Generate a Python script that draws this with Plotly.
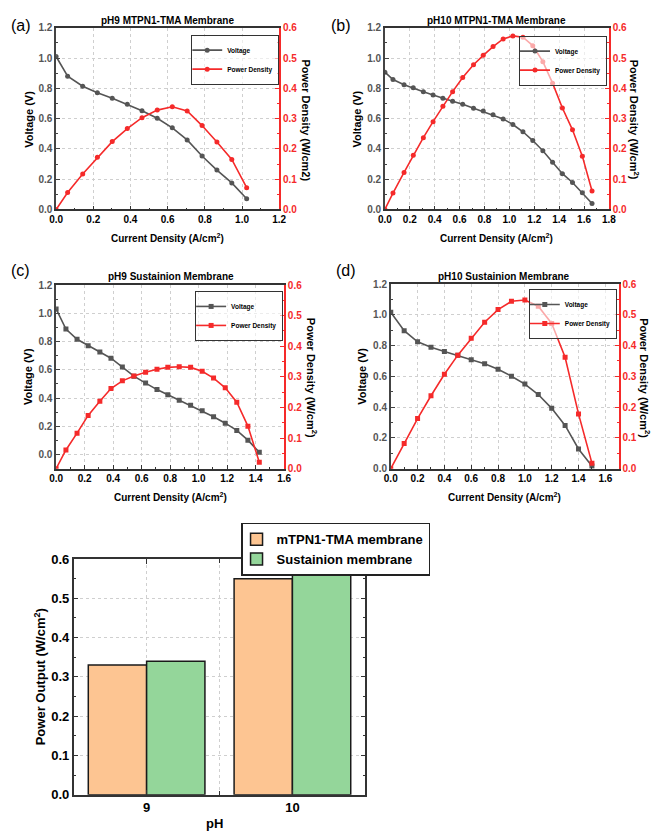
import plotly.graph_objects as go

# ---------------- data ----------------
# (a) pH9 MTPN1-TMA membrane
a_current = [0, 0.062, 0.143, 0.222, 0.302, 0.383, 0.462, 0.544, 0.625, 0.705, 0.785, 0.865, 0.945, 1.025]
a_voltage = [1.01, 0.88, 0.814, 0.771, 0.734, 0.695, 0.652, 0.602, 0.539, 0.459, 0.353, 0.26, 0.175, 0.071]
a_power = [0, 0.056, 0.117, 0.172, 0.224, 0.267, 0.303, 0.328, 0.339, 0.325, 0.277, 0.223, 0.165, 0.072]

# (b) pH10 MTPN1-TMA membrane
b_current = [0, 0.065, 0.154, 0.228, 0.309, 0.387, 0.466, 0.544, 0.625, 0.712, 0.790, 0.869, 0.950, 1.028,
             1.109, 1.188, 1.269, 1.347, 1.426, 1.507, 1.586, 1.664]
b_voltage = [0.907, 0.858, 0.823, 0.804, 0.778, 0.756, 0.734, 0.715, 0.695, 0.669, 0.650, 0.626, 0.598, 0.561,
             0.513, 0.455, 0.388, 0.312, 0.236, 0.178, 0.110, 0.039]
b_power = [0, 0.054, 0.122, 0.179, 0.237, 0.290, 0.341, 0.389, 0.436, 0.478, 0.509, 0.538, 0.563, 0.573,
           0.569, 0.541, 0.488, 0.417, 0.335, 0.263, 0.176, 0.061]

# (c) pH9 Sustainion membrane
c_current = [0, 0.069, 0.147, 0.225, 0.307, 0.385, 0.465, 0.546, 0.628, 0.708, 0.784, 0.864, 0.944, 1.025,
             1.105, 1.187, 1.268, 1.346, 1.426]
c_voltage = [1.031, 0.888, 0.816, 0.770, 0.726, 0.682, 0.620, 0.555, 0.506, 0.460, 0.423, 0.384, 0.349, 0.310,
             0.268, 0.222, 0.171, 0.102, 0.016]
c_power = [0, 0.061, 0.116, 0.174, 0.220, 0.262, 0.287, 0.303, 0.315, 0.325, 0.331, 0.333, 0.331, 0.318,
           0.296, 0.264, 0.217, 0.139, 0.021]

# (d) pH10 Sustainion membrane
d_current = [0, 0.1, 0.2, 0.3, 0.4, 0.5, 0.6, 0.7, 0.8, 0.9, 1.0, 1.1, 1.2, 1.3, 1.4, 1.5]
d_voltage = [1.017, 0.897, 0.825, 0.789, 0.761, 0.737, 0.708, 0.682, 0.646, 0.601, 0.550, 0.482, 0.392, 0.281, 0.128, 0.017]
d_power = [0, 0.082, 0.163, 0.237, 0.307, 0.369, 0.424, 0.476, 0.517, 0.544, 0.548, 0.528, 0.472, 0.362, 0.178, 0.018]

# bar chart
ph_labels = ["9", "10"]
mtpn_peak = [0.33, 0.55]
sust_peak = [0.34, 0.57]

# ---------------- style ----------------
# the page body has an 8 px default margin, so the figure is drawn 8 px in from the top-left
OFF = 8
W, H = 660 - OFF, 840 - OFF
FONT = "Liberation Sans, Arial, sans-serif"
GRAY = "#555555"
RED = "#F52A2A"
AXC = "#333333"
GRID = "#cfcfcf"


def px(x):
    return (x - OFF) / W


def py(y):
    return 1 - (y - OFF) / H


fig = go.Figure()


def add_panel(idx, cur, volt, pwr, symbol, xr, yr_left, dom_x, dom_y, legname, legbox):
    xa = "x" if idx == 1 else f"x{idx}"
    yl_n = 2 * idx - 1
    yr_n = 2 * idx
    yl = "y" if yl_n == 1 else f"y{yl_n}"
    yr = f"y{yr_n}"
    fig.add_trace(go.Scatter(x=cur, y=volt, name="Voltage", mode="lines+markers",
                             line=dict(color=GRAY, width=1.6),
                             marker=dict(symbol=symbol, size=5, color=GRAY),
                             xaxis=xa, yaxis=yl, legend=legname))
    fig.add_trace(go.Scatter(x=cur, y=pwr, name="Power Density", mode="lines+markers",
                             line=dict(color=RED, width=1.6),
                             marker=dict(symbol=symbol, size=5, color=RED),
                             xaxis=xa, yaxis=yr, legend=legname))
    xkey = "xaxis" if idx == 1 else f"xaxis{idx}"
    ylkey = "yaxis" if yl_n == 1 else f"yaxis{yl_n}"
    yrkey = f"yaxis{yr_n}"
    fig.layout[xkey] = dict(domain=[px(dom_x[0]), px(dom_x[1])], range=xr, dtick=0.2, tick0=0,
                            anchor=yl, showline=True, linecolor=AXC, linewidth=1.5, mirror=True,
                            ticks="inside", ticklen=4, tickcolor=AXC,
                            minor=dict(ticks="inside", ticklen=2, dtick=0.1, tickcolor=AXC),
                            showgrid=True, gridcolor=GRID, griddash="dot", gridwidth=1,
                            zeroline=False, tickformat=".1f",
                            tickfont=dict(size=10, color="black", family=FONT, weight="bold"))
    fig.layout[ylkey] = dict(domain=[py(dom_y[1]), py(dom_y[0])], range=yr_left, dtick=0.2, tick0=0,
                             anchor=xa, showline=True, linecolor="#444444", linewidth=1.5,
                             ticks="inside", ticklen=4, tickcolor="#444444",
                             minor=dict(ticks="inside", ticklen=2, dtick=0.1, tickcolor="#444444"),
                             showgrid=True, gridcolor=GRID, griddash="dot", gridwidth=1,
                             zeroline=False, tickformat=".1f",
                             tickfont=dict(size=10, color="#555555", family=FONT, weight="bold"))
    fig.layout[yrkey] = dict(overlaying=yl, side="right", anchor=xa, range=[0, 0.6], dtick=0.1, tick0=0,
                             showline=True, linecolor=RED, linewidth=1.5,
                             ticks="inside", ticklen=4, tickcolor=RED,
                             minor=dict(ticks="inside", ticklen=2, dtick=0.05, tickcolor=RED),
                             showgrid=False, zeroline=False, tickformat=".1f",
                             tickfont=dict(size=10, color=RED, family=FONT, weight="bold"))
    lx, ly = legbox
    fig.layout[legname] = dict(x=px(lx), xanchor="right", y=py(ly), yanchor="top",
                               bgcolor="rgba(255,255,255,0.6)", bordercolor="#333333", borderwidth=1,
                               font=dict(size=6.5, family=FONT, weight="bold", color="black"),
                               itemwidth=30, tracegroupgap=0, indentation=-5)


add_panel(1, a_current, a_voltage, a_power, "circle", [0, 1.2], [0, 1.2], (50, 278), (21, 206), "legend", (278, 28))
add_panel(2, b_current, b_voltage, b_power, "circle", [0, 1.8], [0, 1.2], (386, 615), (21, 206), "legend2", (613, 29))
add_panel(3, c_current, c_voltage, c_power, "square", [0, 1.6], [-0.1, 1.2], (50, 283), (283, 470), "legend3", (282, 289))
add_panel(4, d_current, d_voltage, d_power, "square", [0, 1.7], [0, 1.2], (392, 625), (282, 470), "legend4", (623, 287))

# ---------------- bar chart ----------------
x_pos = list(range(len(ph_labels)))
fig.add_trace(go.Bar(x=x_pos, y=mtpn_peak, name="mTPN1-TMA membrane",
                     marker=dict(color="#FDC592", line=dict(color="#1a1a1a", width=1.5)),
                     xaxis="x5", yaxis="y9", legend="legend5"))
fig.add_trace(go.Bar(x=x_pos, y=sust_peak, name="Sustainion membrane",
                     marker=dict(color="#94D69A", line=dict(color="#1a1a1a", width=1.5)),
                     xaxis="x5", yaxis="y9", legend="legend5"))

fig.layout["xaxis5"] = dict(domain=[px(68), px(366)], range=[-0.5, 1.5], anchor="y9",
                            tickmode="array", tickvals=x_pos, ticktext=ph_labels,
                            showline=True, linecolor=AXC, linewidth=1.5, mirror="allticks",
                            ticks="inside", ticklen=5, tickcolor=AXC,
                            minor=dict(tickmode="array", tickvals=[0.5], ticks="inside", ticklen=4,
                                       tickcolor=AXC, showgrid=True, gridcolor=GRID, griddash="dot"),
                            showgrid=True, gridcolor=GRID, griddash="dot", zeroline=False,
                            tickfont=dict(size=13, color="black", family=FONT, weight="bold"))
fig.layout["yaxis9"] = dict(domain=[py(802), py(562)], range=[0, 0.6], dtick=0.1, tick0=0, anchor="x5",
                            showline=True, linecolor=AXC, linewidth=1.5, mirror="allticks",
                            ticks="inside", ticklen=5, tickcolor=AXC,
                            minor=dict(ticks="inside", ticklen=3, dtick=0.05, tickcolor=AXC),
                            showgrid=True, gridcolor=GRID, griddash="dot", zeroline=False,
                            tickformat=".1f",
                            tickfont=dict(size=13, color="black", family=FONT, weight="bold"))
fig.layout["legend5"] = dict(x=px(239), xanchor="left", y=py(525), yanchor="top",
                             bgcolor="white", bordercolor="#222222", borderwidth=1.5,
                             font=dict(size=13, family=FONT, weight="bold", color="black"),
                             tracegroupgap=0, indentation=-6)

fig.update_layout(barmode="group", bargap=0.2, bargroupgap=0)

# ---------------- annotations ----------------
ann = []


def text(x, y, s, size, color="black", bold=True, angle=0, yanchor="middle"):
    ann.append(dict(x=px(x), y=min(py(y), 1), xref="paper", yref="paper", text=s, showarrow=False,
                    xanchor="center", yanchor=yanchor, textangle=angle,
                    font=dict(size=size, color=color, family=FONT, weight="bold" if bold else "normal")))


# panel letters
text(14, 8, "(a)", 16, bold=False, yanchor="top")
text(341, 8, "(b)", 16, bold=False, yanchor="top")
text(14, 268, "(c)", 16, bold=False)
text(346, 268, "(d)", 16, bold=False)

# panel titles
text(164, 14, "pH9 MTPN1-TMA Membrane", 10)
text(500, 14, "pH10 MTPN1-TMA Membrane", 10)
text(167, 274, "pH9 Sustainion Membrane", 10)
text(508, 274, "pH10 Sustainion Membrane", 10)

# x titles
xt = "Current Density (A/cm<sup>2</sup>)"
text(164, 235, xt, 10)
text(500, 235, xt, 10)
text(167, 499, xt, 10)
text(508, 499, xt, 10)

# left y titles
text(22, 114, "Voltage (V)", 11, angle=-90)
text(358, 114, "Voltage (V)", 11, angle=-90)
text(22, 376, "Voltage (V)", 11, angle=-90)
text(363, 376, "Voltage (V)", 11, angle=-90)

# right y titles
text(305, 115, "Power Density (W/cm2)", 11, angle=90)
text(641, 115, "Power Density (W/cm<sup>2</sup>)", 11, angle=90)
text(311, 378, "Power Density (W/cm<sup>2</sup>)", 11, angle=90)
text(651, 378, "Power Density (W/cm<sup>2</sup>)", 11, angle=90)

# bar chart titles
text(33, 682, "Power Output (W/cm<sup>2</sup>)", 13, angle=-90)
text(212, 831, "pH", 13)

fig.update_layout(annotations=ann)

fig.update_layout(width=W, height=H, margin=dict(l=0, r=0, t=0, b=0),
                  paper_bgcolor="white", plot_bgcolor="white",
                  font=dict(family=FONT, color="black"))

fig.write_html("out.html")
